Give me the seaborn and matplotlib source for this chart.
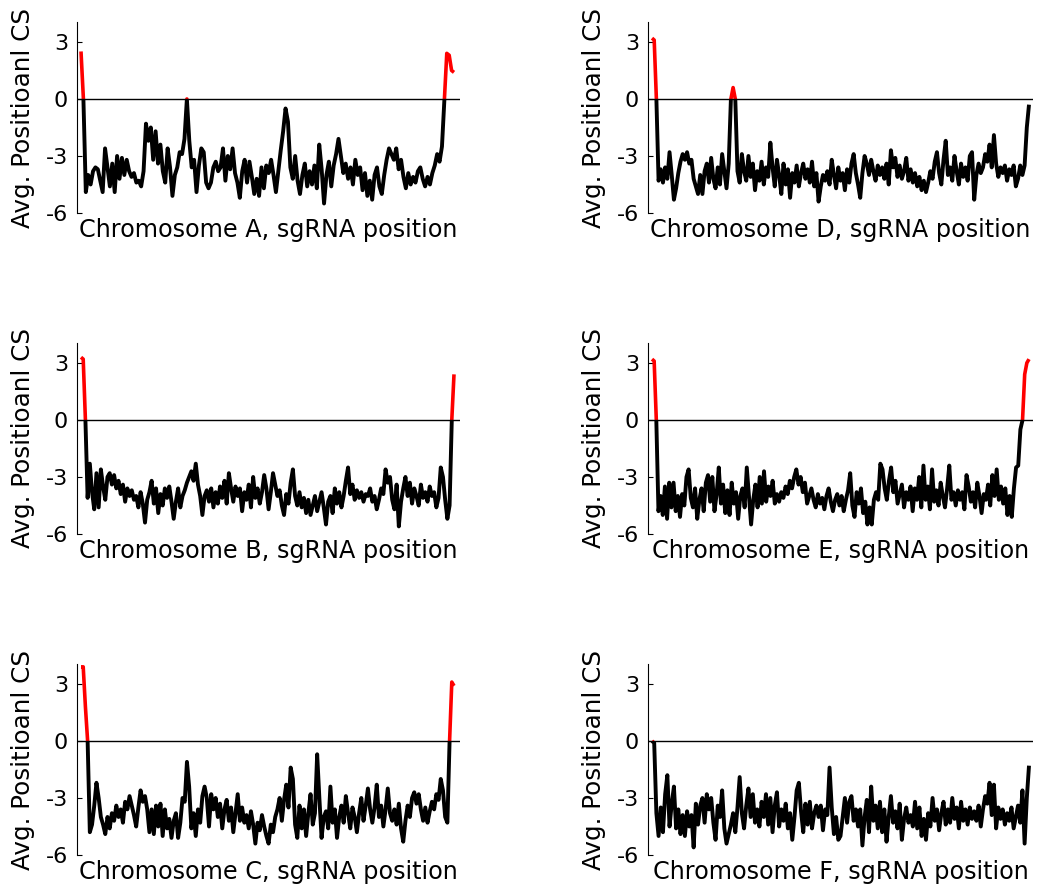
import numpy as np
import pandas as pd
import matplotlib
matplotlib.use("Agg")
import matplotlib.pyplot as plt
import seaborn as sns
from matplotlib.patches import Rectangle

# ---------------- data ----------------
chrom_A = [2.5, 0.0, -4.9, -4.0, -4.5, -3.8, -3.6, -3.7, -4.3, -4.9, -2.6, -3.6, -4.6, -3.4, -4.9, -3.0, -4.2, -3.1,
           -4.0, -3.2, -3.8, -4.1, -3.9, -4.4, -4.3, -4.6, -3.8, -1.3, -2.2, -1.5, -3.2, -1.7, -3.4, -2.4, -3.8, -4.4,
           -2.6, -3.6, -5.1, -4.0, -3.6, -2.8, -2.9, -2.1, 0.0, -2.2, -3.6, -3.2, -4.9, -3.5, -2.6, -2.8, -4.4, -4.7,
           -4.4, -3.6, -3.3, -3.8, -3.6, -2.6, -4.3, -3.0, -3.7, -2.6, -3.9, -4.4, -5.2, -3.8, -3.2, -4.4, -3.3, -4.1,
           -5.0, -4.2, -5.1, -3.6, -4.7, -3.5, -3.9, -3.2, -4.0, -4.9, -3.8, -2.7, -1.7, -0.5, -1.2, -3.6, -4.2, -3.0,
           -4.3, -5.0, -4.0, -3.4, -4.6, -3.8, -4.5, -3.5, -4.7, -2.4, -3.7, -5.5, -4.0, -3.3, -4.6, -3.5, -2.9, -2.1,
           -3.0, -3.9, -3.4, -4.2, -3.6, -4.5, -3.2, -4.0, -3.6, -4.8, -3.9, -5.1, -4.3, -5.3, -4.0, -3.6, -4.6, -5.0,
           -4.0, -3.2, -2.6, -2.9, -3.2, -2.6, -3.7, -3.2, -4.1, -4.7, -3.9, -4.5, -4.1, -4.4, -3.8, -3.6, -4.2, -4.6,
           -4.1, -4.5, -3.9, -3.5, -2.9, -3.3, -2.5, 0.0, 2.4, 2.3, 1.5, 1.4]

chrom_B = [3.3, 3.2, 0.0, -4.1, -2.3, -3.8, -4.7, -2.8, -4.6, -2.6, -3.5, -4.2, -3.0, -2.8, -3.4, -2.9, -3.6, -3.2,
           -3.9, -3.4, -4.3, -3.6, -4.0, -3.7, -4.2, -4.0, -4.6, -3.8, -4.4, -5.4, -4.2, -3.8, -3.2, -4.4, -3.6, -4.9,
           -3.9, -4.5, -3.6, -4.1, -3.5, -4.3, -5.2, -4.3, -3.6, -4.6, -4.0, -3.7, -3.3, -3.0, -2.7, -3.2, -2.3, -3.4,
           -4.0, -5.0, -4.0, -3.7, -4.3, -3.6, -4.6, -3.8, -4.4, -3.5, -4.1, -3.2, -4.4, -2.8, -3.6, -4.3, -3.5, -4.0,
           -3.6, -4.8, -3.8, -4.2, -3.4, -4.6, -3.0, -4.1, -3.6, -4.4, -3.8, -2.9, -3.6, -4.7, -3.8, -2.8, -3.4, -4.0,
           -3.7, -4.5, -5.0, -3.9, -4.4, -3.3, -2.6, -4.0, -4.5, -3.8, -4.6, -4.1, -4.9, -4.2, -5.0, -4.5, -4.0, -4.8,
           -4.3, -3.8, -4.6, -5.5, -4.3, -4.0, -4.9, -3.6, -4.4, -3.8, -4.6, -4.0, -3.2, -2.5, -3.9, -3.4, -4.2, -3.7,
           -4.1, -3.8, -4.3, -3.9, -4.0, -3.6, -4.3, -4.0, -4.7, -4.2, -3.6, -3.9, -2.6, -3.3, -3.0, -4.2, -4.7, -3.4,
           -5.6, -4.3, -3.6, -3.0, -4.0, -3.3, -4.4, -3.6, -4.0, -4.5, -3.4, -4.1, -3.8, -4.3, -3.5, -4.0, -3.8, -4.6,
           -4.1, -2.5, -3.0, -4.2, -5.2, -4.5, 0.0, 2.4]

chrom_C = [3.9, 3.9, 1.8, 0.0, -4.8, -4.4, -3.4, -2.2, -3.0, -4.0, -4.4, -4.9, -4.0, -4.6, -3.8, -4.2, -3.4, -4.0,
           -3.6, -4.3, -3.2, -3.6, -2.9, -3.4, -3.9, -4.5, -3.5, -2.6, -3.2, -2.9, -3.6, -4.8, -3.6, -4.9, -3.4, -4.5,
           -3.3, -5.0, -3.6, -4.6, -4.1, -5.1, -4.2, -3.8, -5.1, -4.3, -3.0, -3.2, -1.1, -2.4, -4.6, -3.8, -5.0, -3.6,
           -4.3, -2.9, -2.4, -3.0, -4.5, -2.8, -3.6, -3.0, -4.0, -3.3, -4.6, -3.6, -3.1, -4.2, -3.5, -4.8, -3.8, -2.8,
           -4.2, -3.5, -4.3, -3.9, -4.6, -3.7, -4.4, -5.4, -4.3, -4.7, -3.9, -4.5, -5.0, -5.4, -4.4, -4.8, -4.0, -3.6,
           -3.0, -4.2, -3.1, -2.3, -3.5, -1.4, -2.0, -4.4, -5.1, -3.4, -4.6, -3.6, -5.0, -3.8, -2.8, -4.4, -3.8, -0.7,
           -3.0, -5.1, -4.0, -3.7, -4.6, -2.4, -4.3, -3.6, -5.1, -4.0, -3.4, -4.3, -2.9, -3.8, -4.6, -3.5, -4.0, -4.8,
           -3.8, -3.0, -4.2, -3.4, -2.5, -3.6, -4.3, -3.5, -2.3, -4.0, -3.4, -4.5, -3.6, -2.5, -3.8, -4.2, -3.6, -4.4,
           -3.3, -4.6, -5.3, -4.2, -3.4, -4.0, -3.0, -2.7, -3.3, -2.8, -3.6, -4.2, -3.5, -4.3, -3.7, -3.2, -3.6, -2.8,
           -3.1, -2.0, -2.6, -4.0, -4.3, 0.0, 3.1, 2.9]

chrom_D = [3.2, 3.1, 0.0, -4.3, -3.7, -4.4, -3.6, -4.2, -2.8, -4.0, -5.3, -4.7, -3.9, -3.3, -2.9, -3.2, -2.8, -3.4,
           -3.2, -4.2, -4.6, -5.0, -4.0, -5.0, -3.8, -3.4, -4.4, -3.1, -4.2, -4.7, -3.6, -4.5, -2.9, -3.8, -4.7, -3.4,
           0.0, 0.6, 0.0, -3.8, -4.4, -2.9, -3.8, -4.3, -3.0, -4.1, -3.4, -4.8, -3.8, -4.3, -3.3, -4.5, -3.6, -4.1,
           -2.3, -3.6, -4.6, -3.2, -4.0, -5.0, -3.4, -4.5, -3.7, -5.2, -3.9, -4.4, -3.5, -4.6, -3.9, -3.4, -4.2, -3.7,
           -4.4, -3.3, -4.6, -3.9, -5.4, -4.6, -4.0, -4.3, -3.8, -4.5, -3.2, -4.0, -4.7, -3.6, -4.3, -3.9, -4.8, -3.7,
           -4.4, -3.4, -2.9, -3.9, -4.5, -5.2, -3.9, -3.0, -3.4, -4.0, -3.2, -3.8, -4.3, -3.5, -4.0, -3.6, -4.2, -3.4,
           -4.5, -2.7, -3.6, -3.1, -4.1, -3.5, -4.2, -3.8, -3.1, -4.3, -3.7, -4.4, -3.9, -4.6, -4.1, -4.8, -4.3, -4.9,
           -4.4, -3.8, -4.2, -3.3, -2.8, -3.9, -4.5, -3.2, -2.2, -4.0, -3.6, -4.3, -3.0, -3.8, -4.5, -3.4, -4.1, -3.6,
           -4.3, -3.0, -2.8, -5.3, -4.0, -3.4, -3.9, -3.6, -2.9, -3.3, -2.4, -3.6, -1.9, -3.4, -4.1, -3.6, -3.9, -3.5,
           -4.3, -3.7, -4.0, -3.5, -4.6, -4.2, -3.5, -4.0, -3.5, -1.5, -0.3]

chrom_E = [3.2, 3.1, 0.0, -4.8, -4.0, -5.0, -3.5, -5.2, -3.3, -4.6, -3.3, -4.8, -4.0, -5.1, -3.9, -4.5, -3.0, -2.6,
           -4.1, -4.6, -3.6, -5.2, -4.2, -3.6, -4.8, -3.3, -2.9, -4.3, -3.0, -4.8, -3.9, -2.5, -4.4, -3.4, -4.9, -3.7,
           -5.0, -3.3, -4.4, -3.8, -5.2, -4.0, -3.6, -4.6, -2.5, -4.0, -5.5, -4.2, -3.4, -4.6, -3.0, -4.4, -2.7, -4.3,
           -3.5, -4.0, -3.2, -4.4, -3.9, -4.3, -3.8, -4.1, -3.5, -3.9, -3.2, -3.6, -3.0, -2.6, -3.4, -3.0, -3.8, -3.3,
           -4.4, -4.0, -3.6, -4.2, -4.6, -3.9, -4.4, -4.1, -4.7, -4.0, -3.6, -4.3, -4.8, -4.2, -3.9, -4.5, -4.0, -4.8,
           -4.2, -3.7, -2.8, -4.5, -5.1, -3.8, -4.4, -3.6, -4.9, -4.3, -5.5, -4.6, -5.5, -4.2, -3.8, -4.2, -2.3, -2.6,
           -3.6, -4.2, -3.2, -2.5, -3.8, -3.2, -4.4, -3.9, -3.4, -4.6, -3.8, -4.2, -3.5, -4.8, -3.6, -4.2, -3.0, -4.6,
           -2.4, -4.2, -3.5, -4.7, -2.6, -4.3, -3.7, -4.5, -3.3, -4.0, -4.6, -3.6, -2.4, -4.2, -3.8, -4.5, -3.7, -4.2,
           -3.8, -4.7, -2.9, -3.5, -4.3, -3.8, -4.6, -3.3, -4.0, -4.9, -3.9, -4.2, -3.4, -4.5, -2.9, -4.0, -2.6, -4.2,
           -3.5, -4.4, -3.6, -5.0, -4.0, -5.1, -3.6, -2.5, -2.4, -0.5, 0.0, 2.4, 3.0, 3.2]

chrom_F = [0.0, -0.1, -3.8, -5.0, -3.5, -4.8, -2.8, -1.8, -4.5, -3.3, -2.4, -4.6, -3.6, -4.9, -3.9, -5.0, -3.7, -4.5,
           -3.9, -5.6, -3.3, -4.4, -3.4, -3.0, -4.3, -2.8, -3.6, -3.0, -4.3, -5.2, -3.4, -4.0, -2.6, -4.6, -5.4, -4.9,
           -4.4, -3.8, -4.8, -3.5, -1.9, -3.8, -4.6, -3.4, -2.5, -4.0, -2.8, -4.3, -3.6, -4.5, -3.2, -4.0, -2.8, -4.4,
           -3.0, -4.8, -3.4, -2.7, -4.5, -3.6, -4.2, -3.3, -4.6, -3.8, -5.2, -4.0, -2.6, -2.2, -3.7, -4.8, -3.3, -4.4,
           -3.2, -4.6, -3.8, -3.4, -4.0, -3.4, -4.7, -3.6, -3.9, -1.4, -3.5, -4.9, -4.0, -5.2, -5.0, -4.0, -3.0, -4.3,
           -3.2, -2.9, -4.2, -3.6, -4.5, -3.6, -5.5, -4.0, -3.1, -4.8, -2.4, -4.2, -3.4, -4.6, -3.2, -4.8, -3.6, -5.3,
           -4.0, -2.9, -4.3, -3.7, -4.6, -3.3, -5.2, -4.1, -3.5, -4.3, -3.9, -4.5, -3.2, -4.6, -3.5, -5.0, -4.1, -5.2,
           -3.8, -4.5, -3.0, -4.2, -3.6, -4.7, -3.8, -3.2, -4.4, -3.6, -4.3, -3.0, -4.1, -3.5, -4.6, -3.2, -4.2, -3.6,
           -4.4, -3.5, -4.1, -3.7, -4.2, -3.4, -4.5, -3.6, -2.9, -3.3, -2.2, -3.9, -2.3, -4.6, -3.5, -4.1, -3.6, -4.4,
           -3.8, -4.2, -3.5, -4.6, -4.0, -3.4, -4.3, -2.6, -5.4, -3.0, -1.3]

chromosomes = ["A", "B", "C", "D", "E", "F"]
series = [chrom_A, chrom_B, chrom_C, chrom_D, chrom_E, chrom_F]
y_ticks = [-6, -3, 0, 3]
y_label = "Avg. Positioanl CS"

# ---------------- figure ----------------
sns.set_theme(style="white")
plt.rcParams["font.family"] = ["DejaVu Sans"]
plt.rcParams["text.color"] = "black"
plt.rcParams["axes.labelcolor"] = "black"
plt.rcParams["ytick.color"] = "black"
plt.rcParams["xtick.color"] = "black"

W, H = 1039, 890
fig = plt.figure(figsize=(W / 100, H / 100), dpi=100)
fig.patch.set_facecolor("white")

cols = [(77, 383, 4, 6), (648, 385, 4, 4)]   # x0, width, left pad, right pad (px)
row_tops = [22, 343, 664]
ax_h = 191

for i, (name, vals) in enumerate(zip(chromosomes, series)):
    col, row = i // 3, i % 3
    x0, w, padl, padr = cols[col]
    top = row_tops[row]
    ax = fig.add_axes([x0 / W, 1 - (top + ax_h) / H, w / W, ax_h / H])
    ax.set_facecolor("white")

    df = pd.DataFrame({"pos": np.arange(len(vals)), "cs": vals})
    sns.lineplot(data=df, x="pos", y="cs", ax=ax, color="black", linewidth=2.8,
                 estimator=None, sort=False)
    sns.lineplot(data=df, x="pos", y="cs", ax=ax, color="#ff0000", linewidth=2.6,
                 estimator=None, sort=False)
    black_line, red_line = ax.lines[0], ax.lines[1]
    for ln in (black_line, red_line):
        ln.set_solid_joinstyle("round")
        ln.set_solid_capstyle("butt")

    n = len(vals)
    step = (w - padl - padr) / (n - 1)
    ax.set_xlim(-padl / step, (n - 1) + padr / step)
    ax.set_ylim(-6, 4.05)
    xmin, xmax = ax.get_xlim()
    black_line.set_clip_path(Rectangle((xmin, -20), xmax - xmin, 20, transform=ax.transData))
    red_line.set_clip_path(Rectangle((xmin, 0), xmax - xmin, 20, transform=ax.transData))

    ax.axhline(0, color="black", linewidth=1.0, zorder=3)

    ax.set_xticks([])
    ax.set_yticks(y_ticks)
    ax.set_yticklabels([str(t) for t in y_ticks])
    ax.tick_params(axis="y", direction="in", length=3.8, width=0.8, color="black",
                   labelcolor="black", labelsize=16, pad=6.5, left=True)
    for s in ("top", "right", "bottom"):
        ax.spines[s].set_visible(False)
    ax.spines["left"].set_color("black")
    ax.spines["left"].set_linewidth(0.8)

    ax.set_ylabel(y_label, fontsize=17.7, labelpad=8, color="black")
    ax.set_xlabel(f"Chromosome {name}, sgRNA position", fontsize=17.2, labelpad=3.5, color="black")

fig.savefig("out.png", dpi=100, facecolor="white")
